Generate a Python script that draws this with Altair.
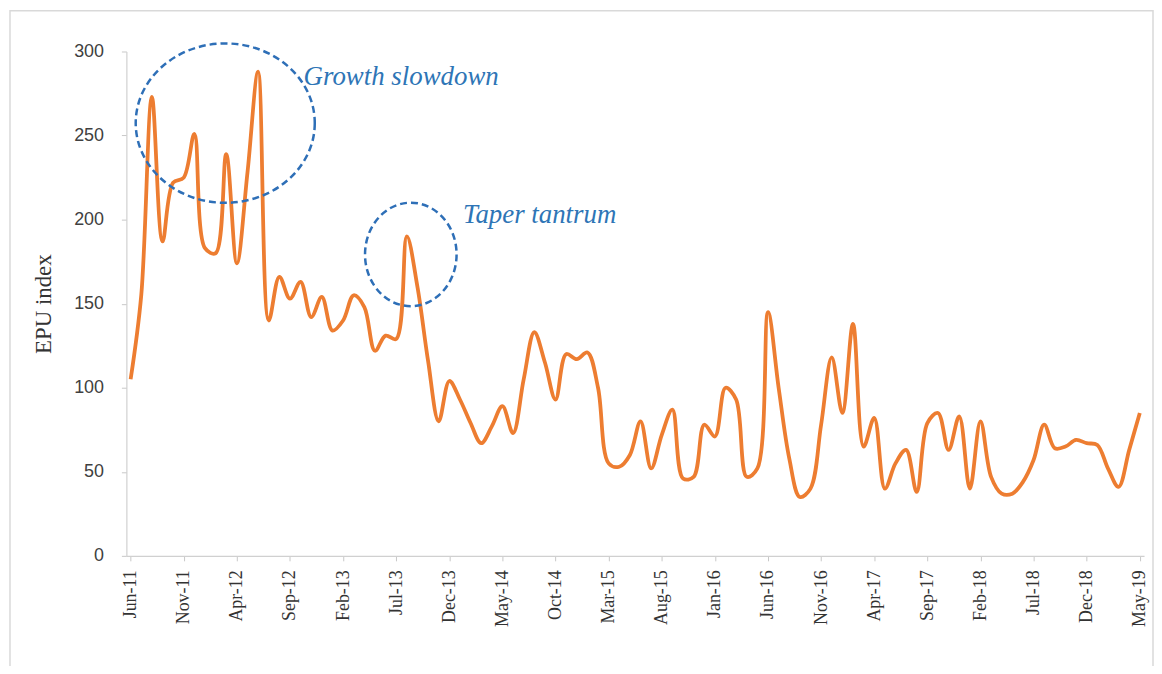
import altair as alt
import pandas as pd

months = list(pd.date_range("2011-06-01", periods=96, freq="MS").strftime("%b-%y"))

epu = [105, 155, 273, 187, 222, 225, 251, 183, 180, 239, 174, 228,
       288, 140, 166, 153, 163, 142, 154, 134, 140, 155, 148, 122,
       131, 129, 190, 160, 116, 80, 104, 93, 79, 67, 77, 89,
       73, 105, 133, 115, 93, 120, 117, 121, 100, 55, 53, 60,
       80, 52, 72, 87, 46, 47, 78, 71, 100, 93, 47, 52,
       145, 100, 58, 35, 40, 78, 118, 85, 138, 65, 82, 40,
       55, 63, 38, 79, 85, 63, 83, 40, 80, 47, 37, 37,
       44, 57, 78, 64, 65, 69, 67, 66, 52, 41, 63, 85]

tick_labels = months[::5]

ann_text = ["Growth slowdown", "Taper tantrum"]
ann_month = ["Oct-12", "Jan-14"]
ann_value = [285, 203]

df = pd.DataFrame({"month": months, "EPU": epu})
ann = pd.DataFrame({"month": ann_month, "EPU": ann_value, "label": ann_text})
big = pd.DataFrame({"month": ["Mar-12"], "EPU": [257.4]})
small = pd.DataFrame({"month": ["Aug-13"], "EPU": [179.3]})

x_enc = alt.X(
    "month:N",
    sort=months,
    scale=alt.Scale(type="point", domain=months, padding=0.4),
    axis=alt.Axis(
        values=tick_labels, title=None, labelAngle=-90,
        labelFont="Liberation Serif", labelFontSize=18, labelColor="#333333",
        labelPadding=9, tickSize=5, tickColor="#C8C8C8",
        domainColor="#D0D0D0", domainWidth=1.2, grid=False,
    ),
)
y_enc = alt.Y(
    "EPU:Q",
    scale=alt.Scale(domain=[0, 300], nice=False, zero=True),
    axis=alt.Axis(
        values=[0, 50, 100, 150, 200, 250, 300], title="EPU index",
        titleFont="Liberation Serif", titleFontSize=23, titleFontWeight="normal",
        titleColor="#333333", titlePadding=18,
        labelFont="Liberation Sans", labelFontSize=18, labelColor="#404040",
        labelPadding=18, tickSize=5, tickColor="#C8C8C8",
        domainColor="#D0D0D0", domainWidth=1.2, grid=False,
    ),
)

line = alt.Chart(df).mark_line(
    color="#ED7D31", strokeWidth=3.8, interpolate="catmull-rom"
).encode(x=x_enc, y=y_enc)

big_path = ("M 1 0 C 1 0.4915 0.5523 0.89 0 0.89 C -0.5523 0.89 -1 0.4915 -1 0 "
            "C -1 -0.4915 -0.5523 -0.89 0 -0.89 C 0.5523 -0.89 1 -0.4915 1 0 Z")
small_path = ("M 0.885 0 C 0.885 0.5523 0.4888 1 0 1 C -0.4888 1 -0.885 0.5523 -0.885 0 "
              "C -0.885 -0.5523 -0.4888 -1 0 -1 C 0.4888 -1 0.885 -0.5523 0.885 0 Z")

ell_big = alt.Chart(big).mark_point(
    shape=big_path, size=32400, filled=False, stroke="#2E6FB7",
    strokeWidth=2.5, strokeDash=[7, 4], opacity=1, xOffset=-1
).encode(x="month:N", y="EPU:Q")

ell_small = alt.Chart(small).mark_point(
    shape=small_path, size=10816, filled=False, stroke="#2E6FB7",
    strokeWidth=2.5, strokeDash=[7, 4], opacity=1, xOffset=4
).encode(x="month:N", y="EPU:Q")

txt = alt.Chart(ann).mark_text(
    align="left", baseline="middle", font="Liberation Serif", fontSize=27,
    fontStyle="italic", color="#2E75B6", dx=3
).encode(x="month:N", y="EPU:Q", text="label:N")

frame = alt.Chart(pd.DataFrame({"a": [0]})).mark_rect(
    fillOpacity=0, stroke="#D9D9D9", strokeWidth=1.5
).encode(x=alt.value(-117), x2=alt.value(1032), y=alt.value(-41), y2=alt.value(640))

chart = alt.layer(frame, line, ell_big, ell_small, txt).properties(
    width=1023, height=507,
    autosize=alt.AutoSizeParams(type="none"),
    padding={"left": 119, "top": 42, "right": 10, "bottom": 109},
    background="white",
).configure_view(stroke=None)

chart.save("out.html", embed_options={"renderer": "svg", "actions": False})
